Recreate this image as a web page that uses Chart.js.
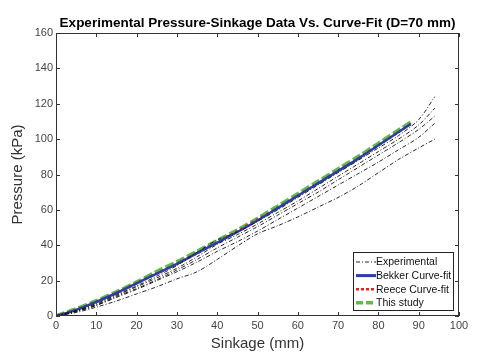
<!DOCTYPE html>
<html>
<head>
<meta charset="utf-8">
<script src="https://cdn.jsdelivr.net/npm/chart.js@4.4.1/dist/chart.umd.min.js"></script>
<style>
  html, body { margin: 0; padding: 0; background: #fff; }
  #wrap { width: 502px; height: 364px; }
</style>
</head>
<body>
<div id="wrap"><canvas id="chart-sinkage" width="502" height="364"></canvas></div>
<script>
// sinkage (mm) positions for the measured runs
const expSinkage = [0, 5, 10, 15, 20, 25, 30, 35, 40, 45, 50, 55, 60, 65, 70, 75, 80, 85, 90, 94];
const exp1 = [0, 3, 7, 12, 17, 22.5, 28.5, 36, 43, 47.5, 53.5, 60, 67, 74, 81, 88, 95, 102, 111, 124];
const exp2 = [0, 3, 6.5, 11.5, 16.5, 21.5, 27, 33.5, 40.5, 46, 52, 58.5, 65, 72, 79, 86, 93, 100, 108, 117.5];
const exp3 = [0, 2.5, 6, 11, 15.5, 20.5, 26, 32, 38.5, 44.5, 50.5, 57, 63.5, 70, 77, 84, 91, 98, 105.5, 113];
const exp4 = [0, 2.5, 6, 10.5, 15, 20, 25, 30.5, 36.5, 42, 48, 54.5, 61, 67.5, 74, 80.5, 87, 94, 101, 109];
const exp5 = [0, 2, 5, 8.5, 12.5, 16.5, 21, 25, 32, 39.5, 46.5, 51, 56, 61.5, 67, 73.5, 81, 88.5, 95, 100];

// curve fits
const fitSinkage = [0, 5, 10, 15, 20, 25, 30, 35, 40, 45, 50, 55, 60, 65, 70, 75, 80, 85, 88];
const bekkerFit = [0, 3.5, 8, 13, 18.5, 24, 29.5, 35.5, 41.5, 47.5, 54, 61, 68, 75, 82, 89, 96.5, 104, 108.5];
const reeceFit = [0, 3.5, 8, 13, 18.5, 24, 29.5, 35.5, 41.5, 48, 54.5, 61, 68, 75, 82, 89, 96.5, 104, 108.5];
const studyFit = [0, 4, 8.5, 13.5, 19, 25, 30.5, 36.5, 42.5, 48.5, 55, 62, 69, 76, 83, 90, 97.5, 105, 109.5];

const xTicks = [0, 10, 20, 30, 40, 50, 60, 70, 80, 90, 100];
const yTicks = [0, 20, 40, 60, 80, 100, 120, 140, 160];

const FONT = '"Liberation Sans", Arial, sans-serif';
const toPts = (xs, ys) => xs.map((x, i) => ({ x: x, y: ys[i] }));

const expRuns = [exp1, exp2, exp3, exp4, exp5];
const datasets = expRuns.map((run, i) => ({
  label: i === 0 ? 'Experimental' : '',
  data: toPts(expSinkage, run),
  borderColor: '#111',
  borderWidth: 0.9,
  borderDash: [4, 2, 1, 2],
  pointRadius: 0,
  showLine: true,
  tension: 0.3
}));
datasets.push({
  label: 'Bekker Curve-fit',
  data: toPts(fitSinkage, bekkerFit),
  borderColor: '#2c3ea6',
  borderWidth: 2.5,
  pointRadius: 0,
  showLine: true,
  tension: 0.3
});
datasets.push({
  label: 'Reece Curve-fit',
  data: toPts(fitSinkage, reeceFit),
  borderColor: '#e8201c',
  borderWidth: 2.5,
  borderDash: [3, 3],
  pointRadius: 0,
  showLine: true,
  tension: 0.3
});
datasets.push({
  label: 'This study',
  data: toPts(fitSinkage, studyFit),
  borderColor: '#5dbb46',
  borderWidth: 4,
  borderDash: [9, 3],
  pointRadius: 0,
  showLine: true,
  tension: 0.3
});

// title, box, inward ticks on all four sides, and the legend
const boxPlugin = {
  id: 'boxPlugin',
  afterDraw(chart) {
    const ctx = chart.ctx;
    const a = chart.chartArea;
    const xs = chart.scales.x, ys = chart.scales.y;
    ctx.save();
    ctx.fillStyle = '#000';
    ctx.font = 'bold 13.5px ' + FONT;
    ctx.textAlign = 'center';
    ctx.textBaseline = 'middle';
    ctx.fillText('Experimental Pressure-Sinkage Data Vs. Curve-Fit (D=70 mm)', (a.left + a.right) / 2, 23);
    ctx.textAlign = 'left';

    ctx.strokeStyle = '#333';
    ctx.lineWidth = 1;
    ctx.strokeRect(a.left + 0.5, a.top + 0.5, a.right - a.left - 1, a.bottom - a.top - 1);
    ctx.beginPath();
    xTicks.forEach(v => {
      const px = Math.round(xs.getPixelForValue(v)) + 0.5;
      ctx.moveTo(px, a.bottom); ctx.lineTo(px, a.bottom - 4);
      ctx.moveTo(px, a.top); ctx.lineTo(px, a.top + 4);
    });
    yTicks.forEach(v => {
      const py = Math.round(ys.getPixelForValue(v)) + 0.5;
      ctx.moveTo(a.left, py); ctx.lineTo(a.left + 4, py);
      ctx.moveTo(a.right, py); ctx.lineTo(a.right - 4, py);
    });
    ctx.stroke();

    // legend
    const lx = 353, ly = 252, lw = 100, lh = 58;
    ctx.fillStyle = '#fff';
    ctx.fillRect(lx, ly, lw, lh);
    ctx.strokeStyle = '#222';
    ctx.strokeRect(lx + 0.5, ly + 0.5, lw, lh);
    const items = [
      { t: 'Experimental', c: '#111', w: 0.9, d: [4, 2, 1, 2] },
      { t: 'Bekker Curve-fit', c: '#2c3ea6', w: 3, d: [] },
      { t: 'Reece Curve-fit', c: '#e8201c', w: 2.5, d: [3, 2] },
      { t: 'This study', c: '#5dbb46', w: 3.5, d: [7, 3] }
    ];
    ctx.font = '10.5px ' + FONT;
    ctx.textBaseline = 'middle';
    items.forEach((it, i) => {
      const yy = 262 + i * 13.6;
      ctx.beginPath();
      ctx.strokeStyle = it.c;
      ctx.lineWidth = it.w;
      ctx.setLineDash(it.d);
      ctx.moveTo(356, yy); ctx.lineTo(376, yy);
      ctx.stroke();
      ctx.setLineDash([]);
      ctx.fillStyle = '#111';
      ctx.fillText(it.t, 376, yy + 0.5);
    });
    ctx.restore();
  }
};

const ctxSink = document.getElementById('chart-sinkage');
new Chart(ctxSink, {
  type: 'scatter',
  data: { datasets: datasets },
  options: {
    responsive: false,
    animation: false,
    layout: { padding: { left: 0, right: 43, top: 33, bottom: 0 } },
    plugins: {
      legend: { display: false },
      tooltip: { enabled: false },
      title: { display: false }
    },
    scales: {
      x: {
        type: 'linear',
        min: 0, max: 100,
        afterBuildTicks: s => { s.ticks = xTicks.map(v => ({ value: v })); },
        afterFit: s => { s.height = 48; },
        grid: { display: false, drawTicks: false },
        border: { display: false },
        ticks: { color: '#444', font: { family: FONT, size: 11 }, padding: 3 },
        title: {
          display: true, text: 'Sinkage (mm)', color: '#333',
          font: { family: FONT, size: 15 },
          padding: { top: 0, bottom: 11 }
        }
      },
      y: {
        type: 'linear',
        min: 0, max: 160,
        afterBuildTicks: s => { s.ticks = yTicks.map(v => ({ value: v })); },
        afterFit: s => { s.width = 56; },
        grid: { display: false, drawTicks: false },
        border: { display: false },
        ticks: { color: '#444', font: { family: FONT, size: 11 }, padding: 3 },
        title: {
          display: true, text: 'Pressure (kPa)', color: '#333',
          font: { family: FONT, size: 15 },
          padding: { top: 9, bottom: 0 }
        }
      }
    }
  },
  plugins: [boxPlugin]
});
</script>
</body>
</html>
